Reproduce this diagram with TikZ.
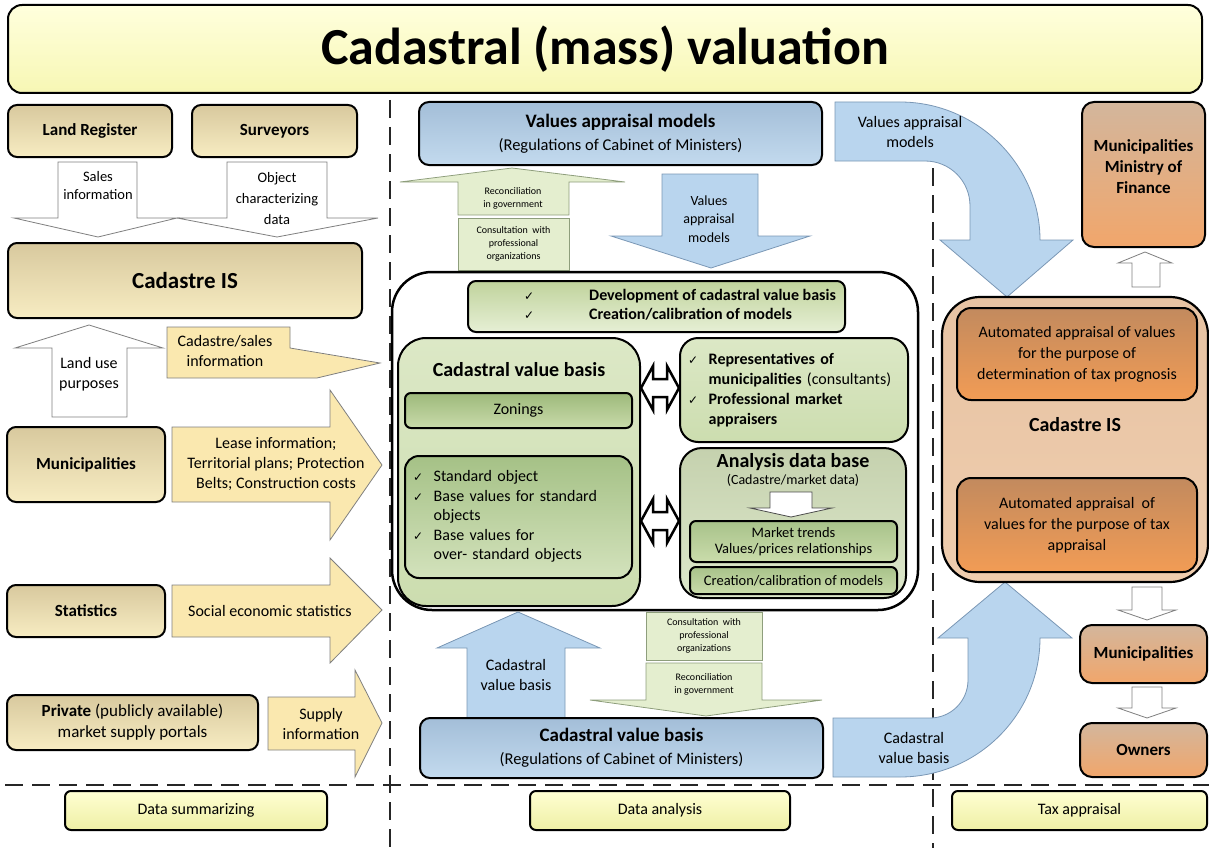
\documentclass[tikz,border=0pt]{standalone}
\usepackage{fontspec}
\setmainfont{Carlito}
\newfontfamily\tickfont{DejaVu Sans}
\usetikzlibrary{positioning}

\definecolor{titletop}{HTML}{FFFFDD}
\definecolor{titlebot}{HTML}{F7F7B4}
\definecolor{tantop}{HTML}{D8C99E}
\definecolor{tanbot}{HTML}{F7ECC2}
\definecolor{tanfill}{HTML}{FAE8AF}
\definecolor{arrowline}{HTML}{7F7F7F}
\definecolor{bluetop}{HTML}{A3BED8}
\definecolor{bluebot}{HTML}{C3DAEE}
\definecolor{bluefill}{HTML}{B9D5EE}
\definecolor{blueline}{HTML}{7A97B5}
\definecolor{greenfill}{HTML}{E4EECF}
\definecolor{greenline}{HTML}{8E9E7C}
\definecolor{devtop}{HTML}{C0D39C}
\definecolor{devbot}{HTML}{E6EFD5}
\definecolor{cvbtop}{HTML}{DCE8C6}
\definecolor{cvbbot}{HTML}{CCDDAF}
\definecolor{zontop}{HTML}{9DB97B}
\definecolor{zonbot}{HTML}{C9DBAA}
\definecolor{stdtop}{HTML}{A5C186}
\definecolor{stdbot}{HTML}{D3E2BC}
\definecolor{anatop}{HTML}{C5D1AE}
\definecolor{anabot}{HTML}{DDE8CB}
\definecolor{mkttop}{HTML}{A8C28A}
\definecolor{mktbot}{HTML}{CADCAB}
\definecolor{cadtop}{HTML}{E7C3A3}
\definecolor{cadbot}{HTML}{EFCDAE}
\definecolor{autotop}{HTML}{C28A5E}
\definecolor{autobot}{HTML}{F29C55}
\definecolor{orgtop}{HTML}{D3B69C}
\definecolor{orgbot}{HTML}{F1A66B}
\definecolor{ylwtop}{HTML}{FFFFD2}
\definecolor{ylwbot}{HTML}{EEEFA5}

\newcommand{\okmark}{{\tickfont\fontsize{12}{12}\selectfont ✓}}

\begin{document}
\begin{tikzpicture}[x=1pt, y=-1pt]
  \tikzstyle{headline}=[rectangle, draw=black, line width=2pt, rounded corners=14pt, top color=titletop, bottom color=titlebot, font=\bfseries\fontsize{52}{62}\selectfont]
  \tikzstyle{source}=[rectangle, draw=black, line width=2pt, rounded corners=9pt, top color=tantop, bottom color=tanbot, align=center, inner sep=2pt, font=\bfseries\fontsize{17}{20}\selectfont]
  \tikzstyle{stage}=[rectangle, draw=black, line width=2pt, rounded corners=6pt, top color=ylwtop, bottom color=ylwbot, align=center, font=\fontsize{16}{19}\selectfont]
  \tikzstyle{regulation}=[rectangle, draw=black, line width=2pt, rounded corners=10pt, top color=bluetop, bottom color=bluebot, align=center, font=\fontsize{16.5}{23}\selectfont]
  \tikzstyle{greenbox}=[rectangle, draw=black, line width=2pt, rounded corners=8pt, align=center, inner sep=2pt]
  \tikzstyle{consult}=[rectangle, draw=greenline, fill=greenfill, line width=0.8pt, align=center, inner sep=1pt, font=\fontsize{10}{13}\selectfont]
  \tikzstyle{taxbox}=[rectangle, draw=black, line width=2pt, rounded corners=12pt, top color=orgtop, bottom color=orgbot, align=center, font=\bfseries\fontsize{17}{21}\selectfont]
  \tikzstyle{autobox}=[rectangle, draw=black, line width=2pt, rounded corners=14pt, top color=autotop, bottom color=autobot, align=center, font=\fontsize{16}{21}\selectfont]
  \tikzstyle{whitearrow}=[draw=arrowline, fill=white, line width=0.8pt]
  \tikzstyle{tanarrow}=[draw=arrowline, fill=tanfill, line width=0.8pt]
  \tikzstyle{bluearrow}=[draw=blueline, fill=bluefill, line width=0.8pt]
  \tikzstyle{greenarrow}=[draw=greenline, fill=greenfill, line width=0.8pt]
  \tikzstyle{linkarrow}=[draw=black, fill=white, line width=2.5pt]
  \tikzstyle{note}=[align=center, font=\fontsize{16}{20}\selectfont]
  \tikzstyle{smallnote}=[align=center, font=\fontsize{10}{13}\selectfont]
  \tikzstyle{divider}=[draw=black!85, line width=2.5pt, dash pattern=on 18pt off 9pt]

  \useasboundingbox (0,0) rectangle (1209,848);

  % dashed dividers
  \draw [divider] (5,785) -- (1209,785);
  \draw [divider] (390,100) -- (390,848);
  \draw [divider] (933,168) -- (933,848);

  \node [headline, minimum width=1194pt, minimum height=88pt] (title) at (605,49) {Cadastral (mass) valuation};

  % data summarizing
  \node [source, minimum width=164pt, minimum height=52pt] (land_register) at (90,131) {Land Register};
  \node [source, minimum width=165pt, minimum height=52pt] (surveyors) at (274.5,131) {Surveyors};
  \draw [whitearrow] (58,162) -- (137,162) -- (137,218) -- (177,218) -- (98,237) -- (14,218) -- (58,218) -- cycle;
  \draw [whitearrow] (227,162) -- (327,162) -- (327,218) -- (378,218) -- (277,237) -- (177,218) -- (227,218) -- cycle;
  \node [note, font=\fontsize{14.5}{18}\selectfont] (sales_info) at (98,186) {Sales\\information};
  \node [note, font=\fontsize{14.5}{21}\selectfont] (object_data) at (277,199) {Object\\characterizing\\data};
  \node [source, minimum width=354pt, minimum height=75pt, font=\bfseries\fontsize{23}{27}\selectfont] (cadastre_left) at (185,280.5) {Cadastre IS};

  \draw [whitearrow] (52,417) -- (52,348) -- (15,348) -- (89,325) -- (163,348) -- (127,348) -- (127,417) -- cycle;
  \node [note] (land_use) at (89,374) {Land use\\purposes};
  \draw [tanarrow] (167,327) -- (290,327) -- (290,348) -- (380,363) -- (317,378) -- (167,378) -- cycle;
  \node [note] (cadastre_sales) at (225,351) {Cadastre/sales\\information};

  \node [source, minimum width=158pt, minimum height=75pt] (municipalities_left) at (86,464.5) {Municipalities};
  \draw [tanarrow] (172,427) -- (330,427) -- (330,390) -- (382,465) -- (330,540) -- (330,502) -- (172,502) -- cycle;
  \node [note] (lease_info) at (276,464) {Lease information;\\Territorial plans; Protection\\Belts; Construction costs};

  \node [source, minimum width=158pt, minimum height=52pt] (statistics) at (86,611) {Statistics};
  \draw [tanarrow] (172,585) -- (330,585) -- (330,558) -- (382,610) -- (330,663) -- (330,637) -- (172,637) -- cycle;
  \node [note] (social_stats) at (270,611) {Social economic statistics};

  \node [source, minimum width=251pt, minimum height=55pt, font=\fontsize{17}{21}\selectfont] (private_portals) at (132.5,722.5) {\textbf{Private} (publicly available)\\market supply portals};
  \draw [tanarrow] (268,697) -- (355,697) -- (355,670) -- (382,723) -- (355,777) -- (355,750) -- (268,750) -- cycle;
  \node [note] (supply_info) at (321,724) {Supply\\information};

  \node [stage, minimum width=262pt, minimum height=39pt] (data_summarizing) at (196,810.5) {Data summarizing};

  % data analysis
  \node [regulation, minimum width=403pt, minimum height=63pt] (vam_box) at (620.5,133.5) {{\bfseries\fontsize{19}{23}\selectfont Values appraisal models}\\(Regulations of Cabinet of Ministers)};
  \draw [greenarrow] (458,215) -- (458,182) -- (400,182) -- (512,168) -- (625,182) -- (569,182) -- (569,215) -- cycle;
  \node [smallnote] (reconcile_top) at (513,198) {Reconciliation\\in government};
  \node [consult, minimum width=111pt, minimum height=52pt] (consult_top) at (513.5,244) {Consultation\ \ with\\professional\\organizations};
  \draw [bluearrow] (662,174) -- (758,174) -- (758,236) -- (810,236) -- (711,268) -- (611,236) -- (662,236) -- cycle;
  \node [note, font=\fontsize{14}{18.5}\selectfont] (vam_down) at (709,219) {Values\\appraisal\\models};

  \node [draw=black, line width=2.5pt, rounded corners=40pt, fill=white, minimum width=526pt, minimum height=338pt] (analysis_frame) at (655,441) {};
  \node [greenbox, top color=devtop, bottom color=devbot, minimum width=377pt, minimum height=51pt, font=\fontsize{16}{19}\selectfont] (development) at (656.5,306.5) {\begin{tabular}{@{\hspace*{47pt}}l@{\hspace{55pt}}l@{}}\okmark & \textbf{Development of cadastral value basis}\\ \okmark & \textbf{Creation/calibration of models}\end{tabular}};

  \node [greenbox, rounded corners=28pt, top color=cvbtop, bottom color=cvbbot, minimum width=242pt, minimum height=268pt] (cvb_panel) at (519,472) {};
  \node [font=\bfseries\fontsize{20}{24}\selectfont] (cvb_title) at (519,370) {Cadastral value basis};
  \node [greenbox, rounded corners=6pt, top color=zontop, bottom color=zonbot, minimum width=227pt, minimum height=35pt, font=\fontsize{16}{19}\selectfont] (zonings) at (518.5,410.5) {Zonings};
  \node [greenbox, rounded corners=14pt, top color=stdtop, bottom color=stdbot, minimum width=227pt, minimum height=122pt, text width=211pt, align=left, font=\fontsize{16}{19.5}\selectfont] (standard_objects) at (518.5,517) {\begin{tabular}{@{}l@{\ \ }l@{}}\okmark & Standard object\\ \okmark & Base values for standard\\ & objects\\ \okmark & Base values for\\ & over- standard objects\end{tabular}};

  \node [greenbox, rounded corners=18pt, top color=cvbtop, bottom color=cvbbot, minimum width=228pt, minimum height=104pt, text width=212pt, align=left, font=\fontsize{16}{20}\selectfont] (representatives) at (794,390) {\begin{tabular}{@{}l@{\ \ }l@{}}\okmark & \textbf{Representatives of}\\ & \textbf{municipalities} (consultants)\\ \okmark & \textbf{Professional market}\\ & \textbf{appraisers}\end{tabular}};

  \node [greenbox, rounded corners=22pt, top color=anatop, bottom color=anabot, minimum width=226pt, minimum height=150pt] (analysis_db) at (793,523) {};
  \node [font=\bfseries\fontsize{20}{24}\selectfont] (analysis_title) at (793,462) {Analysis data base};
  \node [font=\fontsize{14}{17}\selectfont, below=-3pt of analysis_title] (analysis_sub) {(Cadastre/market data)};
  \draw [whitearrow, draw=black!70] (770,492) -- (812,492) -- (812,508) -- (832,508) -- (791,517) -- (750,508) -- (770,508) -- cycle;
  \node [greenbox, rounded corners=6pt, top color=mkttop, bottom color=mktbot, minimum width=207pt, minimum height=41pt, inner sep=0pt, font=\fontsize{14.5}{16}\selectfont] (market_trends) at (793.5,541.5) {Market trends\\Values/prices relationships};
  \node [greenbox, rounded corners=6pt, top color=mkttop, bottom color=mktbot, minimum width=207pt, minimum height=27pt, inner sep=0pt, font=\fontsize{14.5}{16}\selectfont] (creation_models) at (793.5,580.5) {Creation/calibration of models};

  \draw [linkarrow] (641,388) -- (653,366) -- (653,379) -- (667,379) -- (667,366) -- (679,388) -- (667,410) -- (667,397) -- (653,397) -- (653,410) -- cycle;
  \draw [linkarrow] (641,521) -- (653,499) -- (653,512) -- (667,512) -- (667,499) -- (679,521) -- (667,543) -- (667,530) -- (653,530) -- (653,543) -- cycle;

  \draw [bluearrow] (467,718) -- (467,648) -- (437,648) -- (518,612) -- (600,648) -- (565,648) -- (565,718) -- cycle;
  \node [note] (cvb_up) at (516,675) {Cadastral\\value basis};
  \node [consult, minimum width=116pt, minimum height=48pt] (consult_bottom) at (704,636) {Consultation\ \ with\\professional\\organizations};
  \draw [greenarrow] (646,663) -- (762,663) -- (762,700) -- (822,700) -- (706,716) -- (590,700) -- (646,700) -- cycle;
  \node [smallnote] (reconcile_bottom) at (704,684) {Reconciliation\\in government};
  \node [regulation, minimum width=403pt, minimum height=60pt] (cvb_box) at (621.5,748) {{\bfseries\fontsize{19}{23}\selectfont Cadastral value basis}\\(Regulations of Cabinet of Ministers)};

  \node [stage, minimum width=260pt, minimum height=39pt] (data_analysis) at (660,810.5) {Data analysis};

  % tax appraisal
  \draw [bluearrow] (835,102) -- (900,102) .. controls (977,102) and (1040,165) .. (1040,240) -- (1073,240) -- (1007,297) -- (940,240) -- (970,240) -- (970,206) .. controls (970,181) and (950,161) .. (925,161) -- (835,161) -- cycle;
  \node [note] (vam_curve) at (910,132) {Values appraisal\\models};
  \draw [bluearrow] (833,718) -- (930,718) .. controls (951,718) and (968,701) .. (968,680) -- (968,638) -- (938,638) -- (1005,582) -- (1072,638) -- (1040,638) .. controls (1040,715) and (977,777) .. (900,777) -- (833,777) -- cycle;
  \node [note] (cvb_curve) at (914,748) {Cadastral\\value basis};

  \node [taxbox, minimum width=123pt, minimum height=145pt] (ministry) at (1143.5,174.5) {};
  \node [font=\bfseries\fontsize{17}{21}\selectfont, align=center] (ministry_text) at ([yshift=8pt]ministry.center) {Municipalities\\Ministry of\\Finance};
  \draw [whitearrow] (1132,287) -- (1132,263) -- (1118,263) -- (1145,252) -- (1172,263) -- (1160,263) -- (1160,287) -- cycle;

  \node [draw=black, line width=2.2pt, rounded corners=38pt, top color=cadtop, bottom color=cadbot, minimum width=266pt, minimum height=285pt] (cadastre_right) at (1075,439.5) {};
  \node [autobox, minimum width=240pt, minimum height=92pt] (prognosis) at (1077,354) {Automated appraisal of values\\for the purpose of\\determination of tax prognosis};
  \node [font=\bfseries\fontsize{20}{24}\selectfont] (cadastre_right_title) at (1075,425) {Cadastre IS};
  \node [autobox, minimum width=240pt, minimum height=94pt] (tax_values) at (1077,525) {Automated appraisal\ \ of\\values for the purpose of tax\\appraisal};

  \draw [whitearrow] (1132,587) -- (1162,587) -- (1162,610) -- (1176,610) -- (1147,620) -- (1118,610) -- (1132,610) -- cycle;
  \node [taxbox, minimum width=127pt, minimum height=58pt] (municipalities_right) at (1143.5,654) {Municipalities};
  \draw [whitearrow] (1132,687) -- (1162,687) -- (1162,708) -- (1176,708) -- (1147,718) -- (1118,708) -- (1132,708) -- cycle;
  \node [taxbox, minimum width=127pt, minimum height=54pt] (owners) at (1143.5,750) {Owners};

  \node [stage, minimum width=255pt, minimum height=39pt] (tax_appraisal) at (1079.5,810.5) {Tax appraisal};
\end{tikzpicture}
\end{document}
